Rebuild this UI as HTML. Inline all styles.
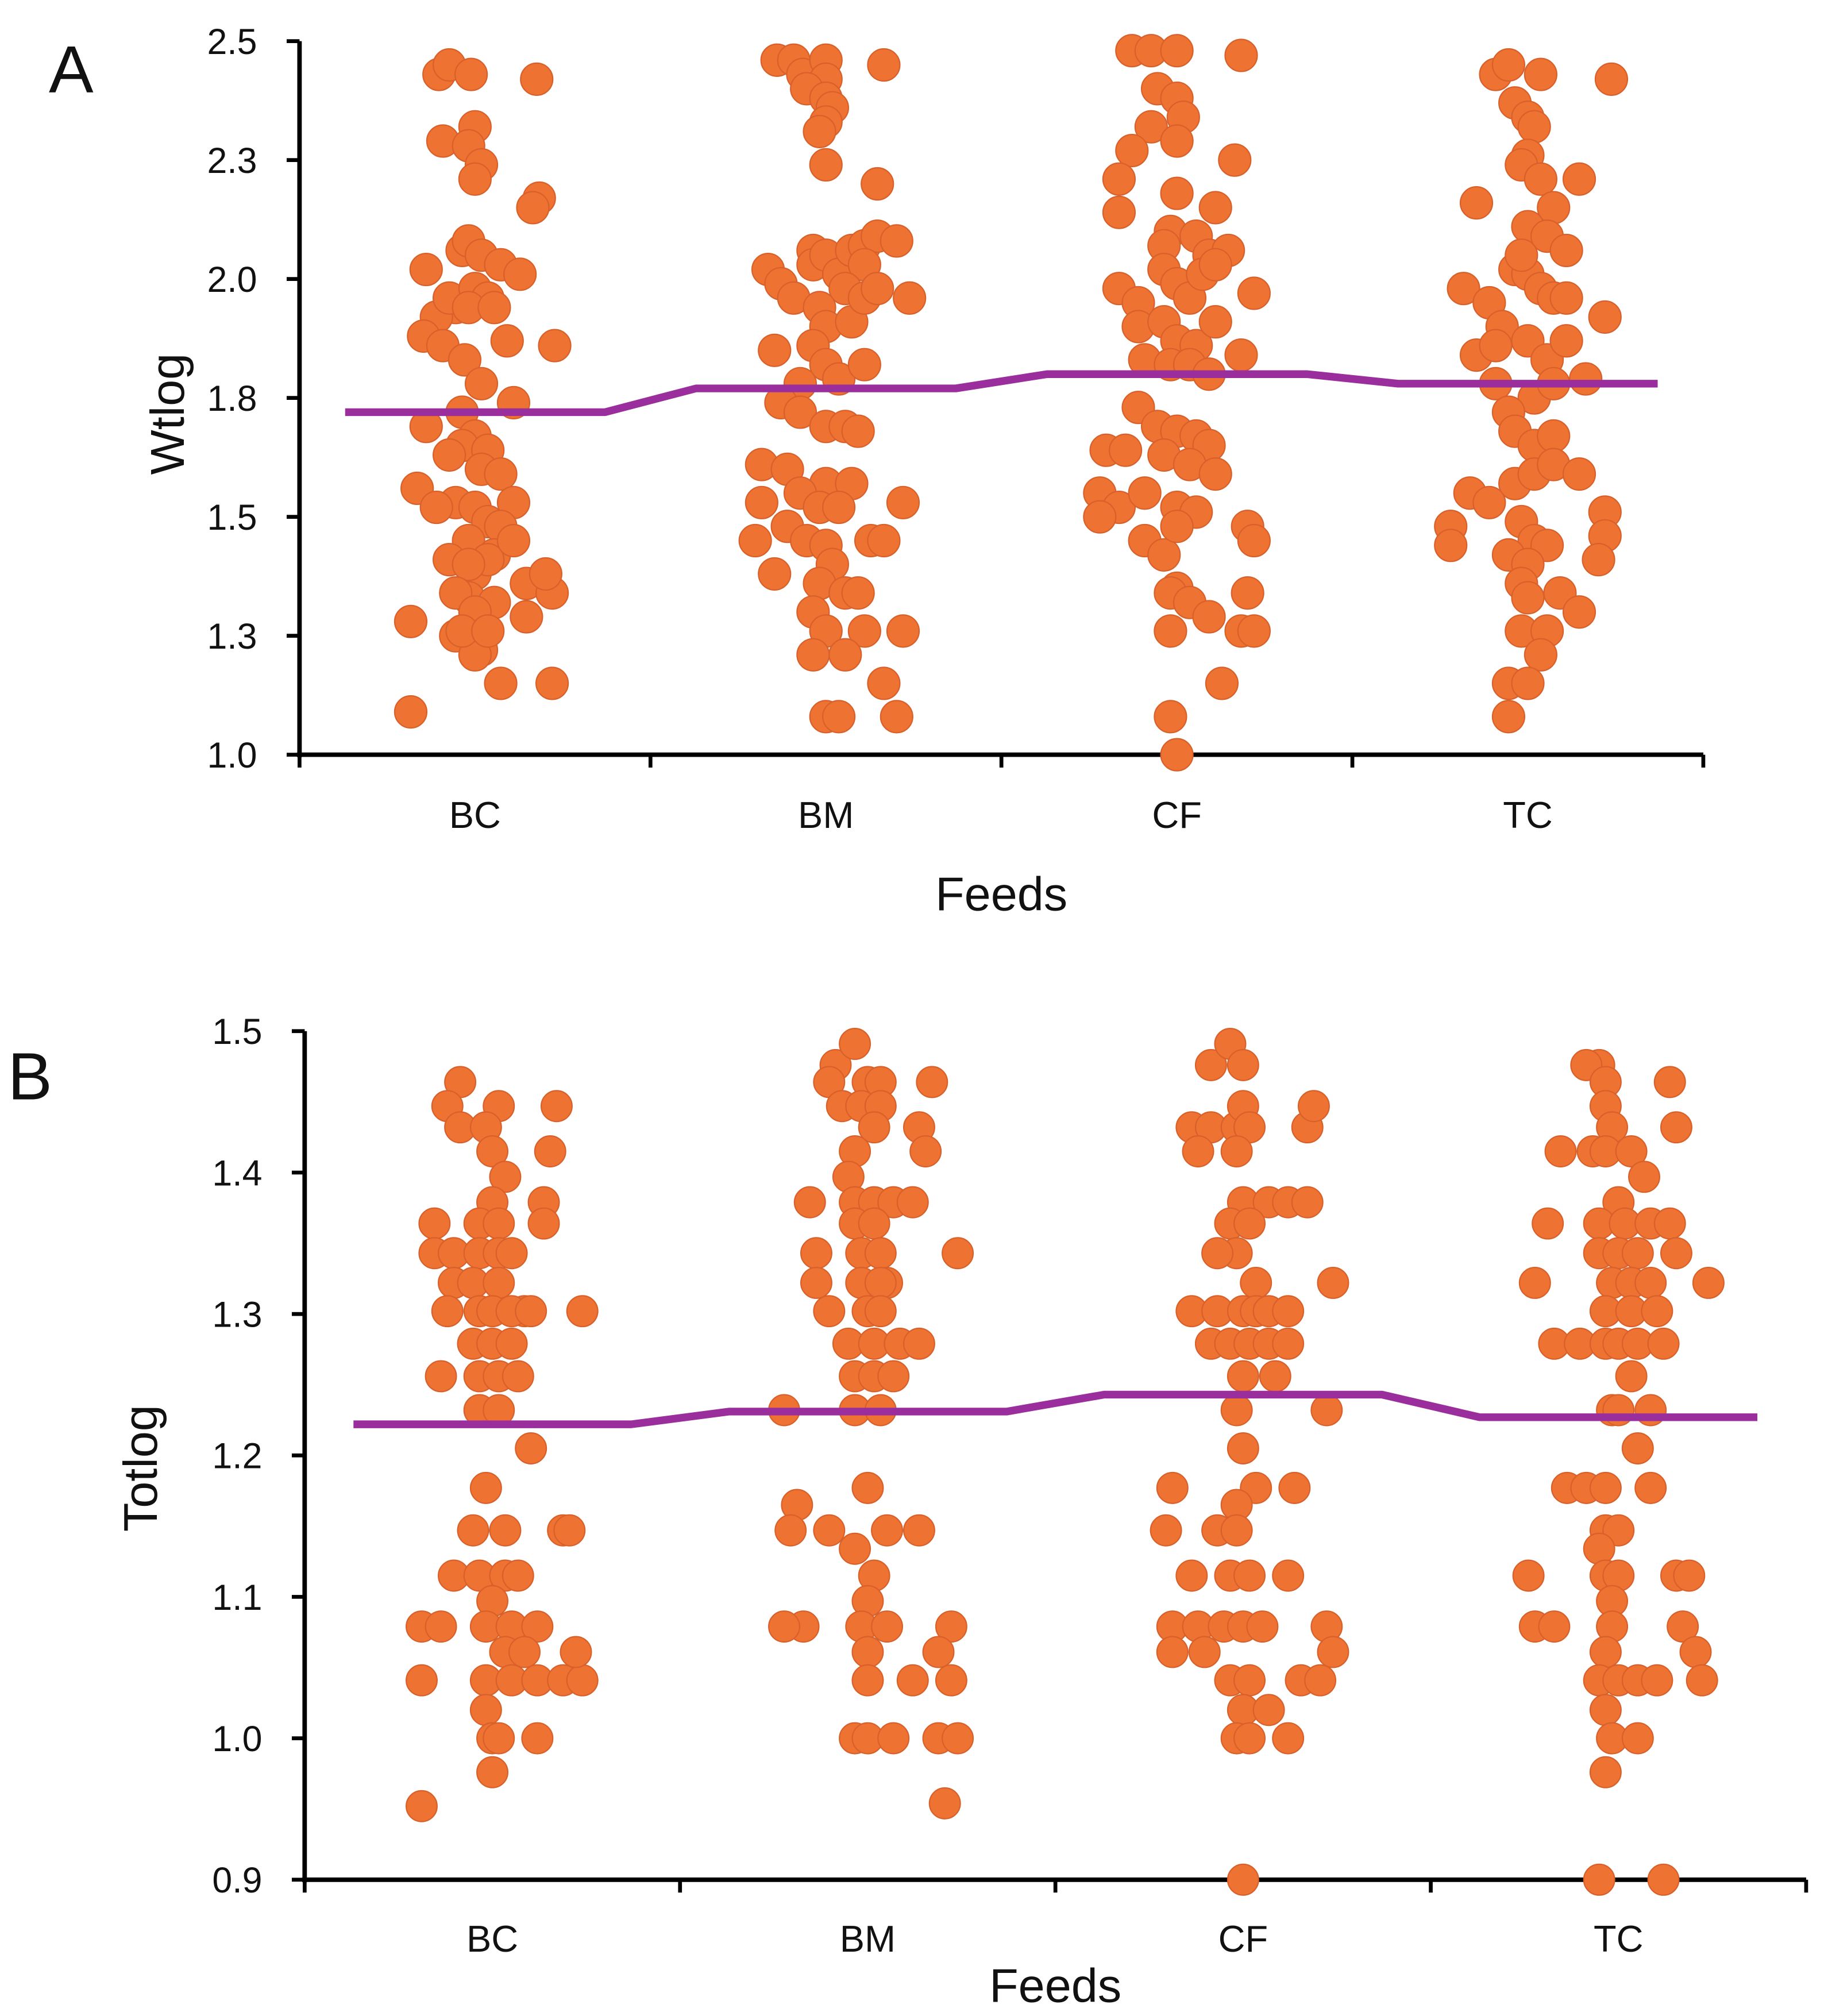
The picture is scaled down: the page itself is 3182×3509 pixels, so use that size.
<!DOCTYPE html>
<html>
<head>
<meta charset="utf-8">
<style>
html,body{margin:0;padding:0;background:#fff;}
svg{display:block;}
text{font-family:"Liberation Sans",sans-serif;fill:#111;}
</style>
</head>
<body>
<svg id="chart" width="3182" height="3509" viewBox="0 0 1422 1568" preserveAspectRatio="none" xmlns="http://www.w3.org/2000/svg">
<g id="panelA"></g>
<g id="panelB"></g>
</svg>
<script>
const categories = ["BC","BM","CF","TC"];

// Panel A values (Wtlog) and horizontal jitter per point
const aBC = [2.43,2.45,2.43,2.42,2.29,2.32,2.28,2.24,2.21,2.17,2.15,2.02,2.06,2.08,2.05,2.03,2.01,1.94,1.92,1.96,1.98,1.96,1.94,1.94,1.87,1.86,1.88,1.86,1.83,1.78,1.72,1.74,1.69,1.67,1.65,1.64,1.63,1.60,1.59,1.53,1.53,1.56,1.52,1.52,1.49,1.48,1.45,1.42,1.41,1.38,1.41,1.40,1.45,1.36,1.34,1.33,1.32,1.34,1.30,1.38,1.29,1.28,1.25,1.22,1.21,1.26,1.26,1.15,1.15,1.09];
const aBCdx = [-28,-20,-3,48,-25,0,-5,5,0,50,45,-38,-10,-5,5,20,35,-15,-30,-20,0,10,-5,15,25,62,-40,-25,-8,5,-10,30,-38,0,-10,10,-20,5,20,30,-15,-45,-30,0,10,20,-5,15,-20,0,10,-5,30,40,60,-5,15,-15,0,55,40,-50,-15,5,0,-10,10,20,60,-50];
const aBM = [2.46,2.46,2.43,2.46,2.42,2.45,2.40,2.38,2.36,2.33,2.31,2.24,2.20,2.02,1.99,1.96,2.06,2.03,2.05,2.01,2.06,2.07,2.09,2.08,2.03,1.98,1.94,1.90,1.91,1.96,1.98,1.96,1.85,1.86,1.82,1.79,1.78,1.82,1.74,1.72,1.69,1.69,1.68,1.61,1.60,1.57,1.57,1.53,1.55,1.52,1.52,1.45,1.45,1.53,1.45,1.48,1.45,1.44,1.40,1.38,1.36,1.34,1.34,1.30,1.26,1.26,1.26,1.21,1.21,1.15,1.08,1.08,1.08];
const aBMdx = [-38,-25,-18,0,0,45,-15,0,5,0,-5,0,40,-45,-35,-25,-10,-10,0,10,20,30,40,55,30,15,-5,0,20,30,40,65,-40,-10,0,10,-20,30,-35,-20,0,15,25,-50,-30,0,20,-50,-20,-5,10,35,45,60,-55,-30,-15,0,5,-40,-5,15,25,-10,0,30,60,-10,15,45,0,10,55];
const aCF = [2.48,2.48,2.48,2.47,2.40,2.38,2.34,2.32,2.29,2.27,2.21,2.18,2.15,2.14,2.25,2.10,2.07,2.09,2.05,2.06,1.98,1.95,2.02,1.99,1.96,2.01,2.03,1.97,1.90,1.91,1.87,1.86,1.91,1.83,1.82,1.82,1.80,1.84,1.73,1.69,1.68,1.67,1.65,1.64,1.64,1.63,1.61,1.59,1.55,1.52,1.55,1.52,1.51,1.50,1.45,1.42,1.48,1.48,1.45,1.35,1.34,1.32,1.29,1.26,1.26,1.26,1.15,1.08,1.00,1.34];
const aCFdx = [-35,-20,0,50,-15,0,5,-20,0,-35,-45,0,30,-45,45,-5,-10,15,25,40,-45,-30,-10,0,10,20,30,60,-30,-10,0,15,30,-25,-5,10,25,50,-30,-15,0,15,25,-55,-40,-10,10,30,-60,-45,-25,0,15,-60,-25,-10,0,55,60,0,-5,10,25,50,60,-5,35,-5,0,55];
const aTC = [2.43,2.45,2.43,2.42,2.37,2.34,2.32,2.26,2.24,2.16,2.21,2.21,2.15,2.11,2.09,2.06,1.98,1.95,2.02,2.01,1.98,1.96,1.96,1.92,1.90,1.84,1.86,1.87,1.83,1.87,1.78,1.75,1.78,1.79,1.72,1.68,1.65,1.67,1.55,1.53,1.57,1.59,1.61,1.59,1.48,1.44,1.49,1.45,1.44,1.42,1.40,1.51,1.46,1.41,1.36,1.33,1.34,1.30,1.26,1.26,1.21,1.15,1.15,1.08,2.05];
const aTCdx = [-25,-15,10,65,-10,0,5,0,-5,-40,10,40,20,0,15,30,-50,-30,-10,0,10,20,30,60,-20,-40,-25,0,15,30,-25,5,20,45,-15,-10,5,20,-45,-30,-10,5,20,40,-60,-60,-5,5,15,-15,0,60,60,55,-5,0,25,40,-5,15,10,-15,0,-15,-5];
const aMeans = [1.72,1.77,1.80,1.78];
const aTicks = [1.0,1.25,1.5,1.75,2.0,2.25,2.5];
const aTickLabels = ["1.0","1.3","1.5","1.8","2.0","2.3","2.5"];

// Panel B values (Totlog)
const bBC = [1.464,1.447,1.432,1.447,1.432,1.415,1.397,1.447,1.415,1.379,1.364,1.364,1.364,1.343,1.343,1.343,1.343,1.343,1.379,1.364,1.322,1.322,1.322,1.302,1.302,1.302,1.302,1.302,1.302,1.302,1.279,1.279,1.279,1.256,1.256,1.256,1.256,1.232,1.232,1.205,1.177,1.147,1.147,1.147,1.147,1.115,1.115,1.115,1.115,1.079,1.079,1.097,1.079,1.079,1.079,1.041,1.041,1.061,1.061,1.020,1.041,1.041,1.041,1.041,1.061,1.000,1.000,1.000,0.976,0.952];
const bBCdx = [-25,-35,-25,5,-5,0,10,50,45,0,-45,-10,5,-45,-30,-10,5,15,40,40,-30,-15,5,25,-35,-10,0,15,30,70,-15,0,15,-10,5,20,-40,-10,5,30,-5,-15,10,55,60,-30,-10,10,20,-55,-40,0,-5,15,35,-55,-5,10,25,-5,15,35,55,70,65,0,5,35,0,-55];
const bBM = [1.476,1.491,1.464,1.464,1.464,1.447,1.447,1.447,1.432,1.432,1.464,1.415,1.415,1.397,1.379,1.379,1.379,1.379,1.379,1.343,1.364,1.364,1.343,1.343,1.322,1.322,1.322,1.322,1.302,1.302,1.302,1.279,1.279,1.279,1.279,1.256,1.256,1.256,1.343,1.232,1.232,1.232,1.165,1.147,1.147,1.177,1.147,1.147,1.134,1.115,1.097,1.079,1.079,1.079,1.079,1.079,1.061,1.061,1.041,1.041,1.041,1.000,1.000,1.000,1.000,1.000,0.954];
const bBMdx = [-25,-10,-30,0,10,-20,-5,10,5,40,50,45,-10,-15,-45,-10,5,20,35,-40,-10,5,-5,10,15,-40,-5,10,-30,0,10,-15,5,25,40,-10,5,20,70,-10,10,-65,-55,-30,-60,0,15,40,-10,5,0,-50,-65,-5,15,65,0,55,0,35,65,-10,0,20,55,70,60];
const bCF = [1.476,1.491,1.476,1.432,1.432,1.432,1.447,1.432,1.415,1.415,1.432,1.447,1.379,1.379,1.379,1.379,1.364,1.364,1.343,1.343,1.322,1.302,1.302,1.302,1.302,1.302,1.302,1.322,1.279,1.279,1.279,1.279,1.279,1.256,1.232,1.256,1.232,1.205,1.177,1.177,1.177,1.165,1.147,1.147,1.147,1.115,1.115,1.115,1.115,1.079,1.079,1.079,1.079,1.079,1.079,1.061,1.061,1.041,1.041,1.041,1.041,1.020,1.061,1.020,1.000,1.000,1.000,0.900];
const bCFdx = [-25,-10,0,-40,-25,-5,0,5,-35,-5,50,55,0,20,35,50,-10,5,-5,-20,10,-40,-20,0,10,20,35,70,-25,-10,5,20,35,0,-5,25,65,0,-55,10,40,-5,-20,-5,-60,-40,-10,5,35,-55,-35,-15,0,15,65,-55,70,-10,5,45,60,0,-30,20,-5,5,35,0];
const bTC = [1.476,1.476,1.464,1.464,1.447,1.432,1.432,1.415,1.415,1.415,1.415,1.397,1.379,1.364,1.364,1.364,1.364,1.364,1.343,1.343,1.343,1.343,1.322,1.322,1.322,1.322,1.322,1.302,1.302,1.302,1.279,1.279,1.279,1.279,1.279,1.279,1.256,1.232,1.232,1.232,1.205,1.177,1.177,1.177,1.177,1.147,1.147,1.134,1.115,1.115,1.115,1.115,1.115,1.097,1.079,1.079,1.079,1.079,1.061,1.061,1.041,1.041,1.041,1.041,1.041,1.020,1.000,1.000,0.976,0.900,0.900];
const bTCdx = [-15,-25,-10,40,-10,-5,45,-45,-20,-10,10,20,0,-55,-15,5,25,40,-15,0,15,45,-65,-5,10,25,70,-10,10,30,-50,-30,-10,0,15,35,10,-5,0,25,15,-40,-25,-10,25,-10,0,-15,-10,0,-70,45,55,-5,-65,-50,-5,50,-10,60,-15,0,15,30,65,-10,-5,15,-10,-15,35];
const bMeans = [1.222,1.231,1.243,1.227];
const bTicks = [0.9,1.0,1.1,1.2,1.3,1.4,1.5];
const bTickLabels = ["0.9","1.0","1.1","1.2","1.3","1.4","1.5"];

const NS = "http://www.w3.org/2000/svg";
function mk(parent, tag, attrs, txt){
  const e = document.createElementNS(NS, tag);
  for (const k in attrs) e.setAttribute(k, attrs[k]);
  if (txt !== undefined) e.textContent = txt;
  parent.appendChild(e);
  return e;
}

function drawPanel(g, cfg){
  const yScale = v => cfg.y0 - (v - cfg.vmin) / (cfg.vmax - cfg.vmin) * (cfg.y0 - cfg.y1);
  const bandW = (cfg.x1 - cfg.x0) / categories.length;
  const xCenter = i => cfg.x0 + bandW * (i + 0.5);

  const yAxis = mk(g, "line", {x1:cfg.x0, y1:cfg.y1, x2:cfg.x0, y2:cfg.y0+2, stroke:"#000", "stroke-width":3.5});
  
  
  cfg.ticks.forEach((t, i) => {
    const y = yScale(t);
    const tk = mk(g, "line", {x1:cfg.x0-10, y1:y, x2:cfg.x0, y2:y, stroke:"#000", "stroke-width":3});
    
    
    const lb = mk(g, "text", {x:cfg.x0-33, y:y+10, "text-anchor":"end", "font-size":28}, cfg.tickLabels[i]);
    
    
  });
  const xAxis = mk(g, "line", {x1:cfg.x0-2, y1:cfg.y0, x2:cfg.x1, y2:cfg.y0, stroke:"#000", "stroke-width":3.5});
  
  
  for (let i = 0; i <= categories.length; i++) {
    const x = cfg.x0 + bandW * i;
    const tk = mk(g, "line", {x1:x, y1:cfg.y0, x2:x, y2:cfg.y0+10, stroke:"#000", "stroke-width":3});
    
    
  }
  categories.forEach((c, i) => {
    const lb = mk(g, "text", {x:xCenter(i), y:cfg.catY, "text-anchor":"middle", "font-size":29}, c);
    
    
  });
  const xt = mk(g, "text", {x:(cfg.x0+cfg.x1)/2, y:cfg.xTitleY, "text-anchor":"middle", "font-size":37}, "Feeds");
  
  
  const yt = mk(g, "text", {x:0, y:0, "text-anchor":"middle", "font-size":37, transform:`translate(${cfg.yTitleX},${cfg.yTitleY}) rotate(-90)`}, cfg.yTitle);
  
  
  const pl = mk(g, "text", {x:cfg.letterX, y:cfg.letterY, "font-size":52}, cfg.letter);
  
  

  cfg.groups.forEach((grp, i) => {
    const vals = grp[0], dxs = grp[1];
    vals.forEach((v, j) => {
      const d = mk(g, "circle", {cx:xCenter(i) + (dxs[j] || 0), cy:yScale(v), r:cfg.r, fill:"#EE7232", stroke:"#D8602A", "stroke-width":1});
      
      
    });
  });

  const hw = bandW * 0.37;
  const pts = [];
  cfg.means.forEach((m, i) => {
    pts.push((xCenter(i)-hw) + "," + yScale(m));
    pts.push((xCenter(i)+hw) + "," + yScale(m));
  });
  const ml = mk(g, "polyline", {points:pts.join(" "), fill:"none", stroke:"#9B2E9D", "stroke-width":6, "stroke-linejoin":"round"});
  
  
}

drawPanel(document.getElementById("panelA"), {
  x0:233, x1:1325, y0:587, y1:32, vmin:1.0, vmax:2.5, r:12.5,
  ticks:aTicks, tickLabels:aTickLabels, means:aMeans,
  groups:[[aBC,aBCdx],[aBM,aBMdx],[aCF,aCFdx],[aTC,aTCdx]],
  catY:644, xTitleY:708, yTitle:"Wtlog", yTitleX:143, yTitleY:322,
  letter:"A", letterX:38, letterY:72
});
drawPanel(document.getElementById("panelB"), {
  x0:237, x1:1405, y0:1462, y1:802, vmin:0.9, vmax:1.5, r:12,
  ticks:bTicks, tickLabels:bTickLabels, means:bMeans,
  groups:[[bBC,bBCdx],[bBM,bBMdx],[bCF,bCFdx],[bTC,bTCdx]],
  catY:1518, xTitleY:1557, yTitle:"Totlog", yTitleX:122, yTitleY:1142,
  letter:"B", letterX:6, letterY:855
});
</script>
</body>
</html>
